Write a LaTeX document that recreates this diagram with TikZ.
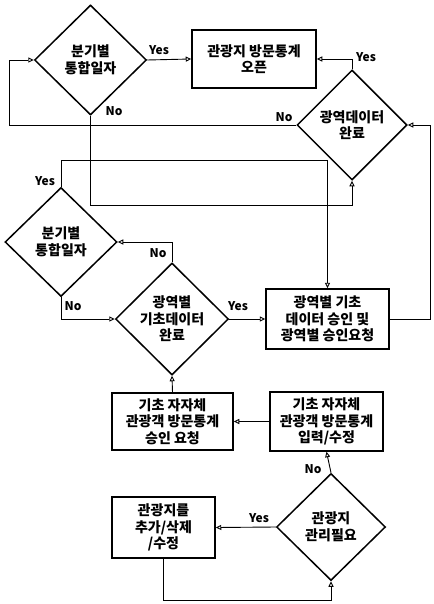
\documentclass[tikz,border=0pt]{standalone}
\usepackage{fontspec}
\setmainfont{Noto Sans CJK KR}
\usetikzlibrary{shapes.geometric,arrows.meta}
\begin{document}
\begin{tikzpicture}[x=1pt,y=-1pt,
  txt/.style={font=\fontsize{14}{16.5}\selectfont\bfseries, align=center},
  dec/.style={draw, line width=1.5pt, diamond, inner sep=0pt, txt},
  box/.style={draw, line width=1.5pt, rectangle, inner sep=0pt, txt},
  arr/.style={line width=0.9pt, -{Triangle[open,length=5.5pt,width=5pt]}},
  lbl/.style={font=\fontsize{12}{13}\selectfont\bfseries, inner sep=0pt}]
\useasboundingbox (0,0) rectangle (433,604);
% diamonds
\node[dec, minimum width=112pt, minimum height=110pt] (D1) at (90.5,60) {분기별\\통합일자};
\node[dec, minimum width=110pt, minimum height=110pt] (D2) at (352,125) {광역데이터\\완료};
\node[dec, minimum width=112pt, minimum height=109pt] (D3) at (61,242) {분기별\\통합일자};
\node[dec, minimum width=113pt, minimum height=112pt] (D4) at (172,319) {광역별\\기초데이터\\완료};
\node[dec, minimum width=109pt, minimum height=107pt] (D5) at (331,527) {관광지\\관리필요};
% boxes
\node[box, minimum width=124pt, minimum height=58pt] (B1) at (254,59) {관광지 방문통계\\오픈};
\node[box, minimum width=123pt, minimum height=60pt] (B2) at (327.5,319) {광역별 기초\\데이터 승인 및\\광역별 승인요청};
\node[box, minimum width=121pt, minimum height=57pt] (B3) at (172.5,421.5) {기초 자자체\\관광객 방문통계\\승인 요청};
\node[box, minimum width=113pt, minimum height=59pt] (B4) at (326.5,421.5) {기초 자자체\\관광객 방문통계\\입력/수정};
\node[box, minimum width=103pt, minimum height=61pt] (B5) at (163.5,527.5) {관광지를\\추가/삭제\\/수정};
% connectors
\draw[arr] (D1.east) -- (B1.west);
\draw[arr] (D2.north) |- (B1.east);
\draw[arr] (D2.west) -- ++(-287,0) |- (D1.west);
\draw[arr] (D1.south) -- ++(0,90) -| (D2.south);
\draw[arr] (D3.north) -- ++(0,-26) -| (B2.north);
\draw[arr] (D4.north) |- (D3.east);
\draw[arr] (D3.south) |- (D4.west);
\draw[arr] (D4.east) -- (B2.west);
\draw[arr] (B2.east) -- ++(41,0) |- (D2.east);
\draw[arr] (B3.north) -- (D4.south);
\draw[arr] (B4.west) -- (B3.east);
\draw[arr] (D5.north) -- (B4.south);
\draw[arr] (D5.west) -- (B5.east);
\draw[arr] (B5.south) -- ++(0,42) -| (D5.south);
% labels
\node[lbl] (y1) at (159,50) {Yes};
\node[lbl] (y2) at (366,57) {Yes};
\node[lbl] (n2) at (284,117) {No};
\node[lbl] (n1) at (114,111) {No};
\node[lbl] (y3) at (45,181) {Yes};
\node[lbl] (n4) at (158,253) {No};
\node[lbl] (n3) at (73,306) {No};
\node[lbl] (y4) at (238,306) {Yes};
\node[lbl] (n5) at (313,469) {No};
\node[lbl] (y5) at (259,518) {Yes};
\end{tikzpicture}
\end{document}
